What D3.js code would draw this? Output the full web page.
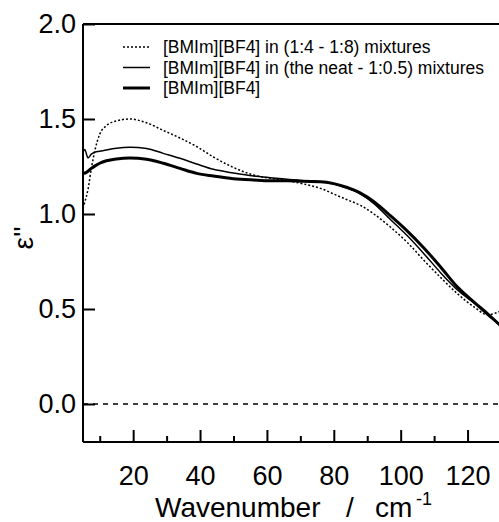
<!DOCTYPE html>
<html>
<head>
<meta charset="utf-8">
<script src="https://cdn.jsdelivr.net/npm/d3@7"></script>
<style>
  body { margin: 0; background: #fff; }
  text { font-family: "Liberation Sans", Arial, sans-serif; fill: #000; }
</style>
</head>
<body>
<svg id="chart"></svg>
<script>
// wavenumber grid (cm-1)
const wavenumber = [5, 5.5, 6.5, 7.5, 8.5, 10, 12, 15, 19, 24, 29, 34, 39, 44, 50, 56, 61, 66, 71, 76, 80, 84, 88, 92, 97, 102, 107, 112, 117, 122, 126, 130];

// eps'' for [BMIm][BF4] in (1:4 - 1:8) mixtures (dotted)
const mixHigh = [1.03, 1.06, 1.13, 1.24, 1.33, 1.42, 1.465, 1.49, 1.50, 1.48, 1.44, 1.40, 1.355, 1.30, 1.245, 1.205, 1.188, 1.175, 1.158, 1.135, 1.105, 1.075, 1.045, 1.0, 0.93, 0.85, 0.755, 0.665, 0.58, 0.51, 0.47, 0.49];
// eps'' for [BMIm][BF4] in (the neat - 1:0.5) mixtures (thin)
const mixLow = [1.325, 1.34, 1.295, 1.315, 1.325, 1.33, 1.337, 1.346, 1.351, 1.345, 1.319, 1.293, 1.263, 1.235, 1.216, 1.20, 1.191, 1.183, 1.175, 1.17, 1.158, 1.135, 1.105, 1.055, 0.97, 0.885, 0.79, 0.69, 0.60, 0.53, 0.468, 0.41];
// eps'' for neat [BMIm][BF4] (thick)
const neat = [1.22, 1.215, 1.225, 1.24, 1.252, 1.267, 1.28, 1.29, 1.295, 1.288, 1.267, 1.24, 1.214, 1.20, 1.186, 1.179, 1.175, 1.175, 1.172, 1.17, 1.16, 1.14, 1.11, 1.065, 0.99, 0.91, 0.82, 0.72, 0.615, 0.535, 0.475, 0.41];

const legendLabels = ["[BMIm][BF4] in (1:4 - 1:8) mixtures", "[BMIm][BF4] in (the neat - 1:0.5) mixtures", "[BMIm][BF4]"];
const xTicks = [20, 40, 60, 80, 100, 120];
const xMinorTicks = [10, 30, 50, 70, 90, 110, 130];
const yTicks = [0.0, 0.5, 1.0, 1.5, 2.0];

const W = 499, H = 522;
const margin = { top: 24, right: -2, bottom: 80, left: 83 };

const svg = d3.select("#chart")
    .attr("width", W)
    .attr("height", H);

const x = d3.scaleLinear().domain([5, 130]).range([margin.left, W - margin.right]);
const y = d3.scaleLinear().domain([-0.2, 2.0]).range([H - margin.bottom, margin.top]);

svg.append("clipPath").attr("id", "clip")
    .append("rect")
    .attr("x", margin.left).attr("y", margin.top)
    .attr("width", W - margin.right - margin.left)
    .attr("height", H - margin.bottom - margin.top);

// zero line
svg.append("line")
    .attr("x1", x(5)).attr("x2", x(130))
    .attr("y1", y(0)).attr("y2", y(0))
    .attr("stroke", "#000")
    .attr("stroke-width", 1.5)
    .attr("stroke-dasharray", "5,5");

// curves
const series = [
    { vals: mixHigh, width: 1.5, dash: "2,2" },
    { vals: mixLow, width: 1.5, dash: null },
    { vals: neat, width: 3, dash: null }
];

const line = d3.line()
    .x((d, i) => x(wavenumber[i]))
    .y(d => y(d))
    .curve(d3.curveMonotoneX);

series.forEach(s => {
    svg.append("path")
        .datum(s.vals)
        .attr("clip-path", "url(#clip)")
        .attr("d", line)
        .attr("fill", "none")
        .attr("stroke", "#000")
        .attr("stroke-width", s.width)
        .attr("stroke-dasharray", s.dash);
});

// frame: left, bottom, top
const frame = svg.append("g").attr("stroke", "#000").attr("stroke-width", 2);
frame.append("line").attr("x1", x(5)).attr("x2", x(5)).attr("y1", y(2.0)).attr("y2", y(-0.2));
frame.append("line").attr("x1", x(5)).attr("x2", W).attr("y1", y(-0.2)).attr("y2", y(-0.2));
frame.append("line").attr("x1", x(5)).attr("x2", W).attr("y1", y(2.0)).attr("y2", y(2.0));

// bottom axis, ticks pointing inward
const xAxis = svg.append("g")
    .attr("transform", `translate(0,${y(-0.2)})`)
    .call(d3.axisBottom(x).tickValues(xTicks).tickSize(-12).tickSizeOuter(0).tickPadding(24).tickFormat(d3.format("d")));
xAxis.select(".domain").remove();
xAxis.selectAll(".tick line").attr("stroke-width", 2);
xAxis.selectAll("text").style("font-size", "27px").attr("font-family", null);

const xMinor = svg.append("g")
    .attr("transform", `translate(0,${y(-0.2)})`)
    .call(d3.axisBottom(x).tickValues(xMinorTicks).tickSize(-6).tickSizeOuter(0).tickFormat(""));
xMinor.select(".domain").remove();
xMinor.selectAll(".tick line").attr("stroke-width", 2);

// left axis
const yAxis = svg.append("g")
    .attr("transform", `translate(${x(5)},0)`)
    .call(d3.axisLeft(y).tickValues(yTicks).tickSize(-12).tickSizeOuter(0).tickPadding(7).tickFormat(d3.format(".1f")));
yAxis.select(".domain").remove();
yAxis.selectAll(".tick line").attr("stroke-width", 2);
yAxis.selectAll("text").style("font-size", "27px").attr("font-family", null);

// axis titles
const xTitle = svg.append("text")
    .attr("x", 155)
    .attr("y", 517)
    .style("font-size", "28px");
xTitle.append("tspan").text("Wavenumber");
xTitle.append("tspan").attr("x", 346).text("/");
xTitle.append("tspan").attr("x", 375).text("cm");
svg.append("text")
    .attr("x", 416)
    .attr("y", 505)
    .style("font-size", "18px")
    .text("-1");

svg.append("text")
    .attr("transform", "translate(33,238) rotate(-90)")
    .attr("text-anchor", "middle")
    .style("font-size", "28px")
    .text("ε''");

// legend
const legend = svg.append("g");
series.forEach((s, i) => {
    const ly = 47 + i * 20.5;
    legend.append("line")
        .attr("x1", 123).attr("x2", 150)
        .attr("y1", ly).attr("y2", ly)
        .attr("stroke", "#000")
        .attr("stroke-width", s.width)
        .attr("stroke-dasharray", s.dash);
    legend.append("text")
        .attr("x", 163)
        .attr("y", ly + 6)
        .style("font-size", "17.5px")
        .text(legendLabels[i]);
});
</script>
</body>
</html>
